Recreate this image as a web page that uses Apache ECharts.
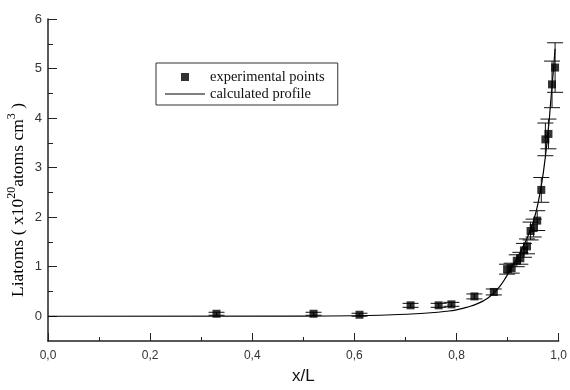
<!DOCTYPE html>
<html>
<head>
<meta charset="utf-8">
<script src="https://cdn.jsdelivr.net/npm/echarts@6/dist/echarts.min.js"></script>
<style>
  html, body { margin: 0; padding: 0; background: #fff; }
  #chart { width: 570px; height: 390px; }
</style>
</head>
<body>
<div id="chart"></div>
<script>
// ===== data =====
const expX = [0.33, 0.52, 0.61, 0.71, 0.765, 0.79, 0.835, 0.873, 0.899, 0.908, 0.918, 0.925,
              0.932, 0.938, 0.945, 0.951, 0.958, 0.966, 0.974, 0.980, 0.987, 0.993];
const expY = [0.05, 0.05, 0.03, 0.22, 0.22, 0.24, 0.40, 0.49, 0.95, 0.97, 1.12, 1.17,
              1.33, 1.41, 1.72, 1.78, 1.93, 2.55, 3.57, 3.68, 4.68, 5.02];
const expErr = [0.03, 0.03, 0.03, 0.04, 0.04, 0.04, 0.05, 0.06, 0.10, 0.10, 0.12, 0.12,
                0.14, 0.15, 0.18, 0.18, 0.20, 0.25, 0.33, 0.30, 0.47, 0.50];

const calcX = [0, 0.5, 0.6, 0.65, 0.7, 0.75, 0.78, 0.8, 0.82, 0.84, 0.86, 0.88, 0.9, 0.91,
               0.92, 0.93, 0.94, 0.95, 0.96, 0.97, 0.98, 0.985, 0.99, 0.993];
const calcY = [0, 0.003, 0.01, 0.02, 0.04, 0.07, 0.1, 0.13, 0.18, 0.25, 0.36, 0.54, 0.84, 1.02,
               1.2, 1.4, 1.62, 1.9, 2.3, 2.9, 3.8, 4.4, 5.0, 5.4];

const yMajor = [0, 1, 2, 3, 4, 5, 6];
const yMinor = [0.5, 1.5, 2.5, 3.5, 4.5, 5.5];

const AXIS_COLOR = '#222';
const chart = echarts.init(document.getElementById('chart'));

chart.setOption({
  animation: false,
  backgroundColor: '#fff',
  grid: { left: 48, right: 10, top: 19, bottom: 45 },
  legend: {
    orient: 'vertical',
    left: 156,
    top: 63,
    padding: [6, 13, 3, 9],
    itemGap: 1,
    itemWidth: 40,
    itemHeight: 8,
    borderColor: '#333',
    borderWidth: 1,
    textStyle: { fontFamily: 'Liberation Serif', fontSize: 14.5, color: '#111', lineHeight: 16 },
    data: [
      { name: 'experimental points', icon: 'path://M0,0H1V1H0Z' },
      { name: 'calculated profile', icon: 'path://M0,0H40V1H0Z' }
    ]
  },
  xAxis: {
    type: 'value',
    min: 0, max: 1, interval: 0.2,
    name: 'x/L',
    nameLocation: 'middle',
    nameGap: 27,
    nameTextStyle: { fontFamily: 'Liberation Sans', fontSize: 17, color: '#111' },
    axisLine: { onZero: false, lineStyle: { color: AXIS_COLOR, width: 1.5 } },
    axisTick: { inside: true, length: 8, lineStyle: { color: AXIS_COLOR } },
    minorTick: { show: true, splitNumber: 2, length: 4, lineStyle: { color: AXIS_COLOR } },
    splitLine: { show: false },
    axisLabel: {
      margin: 9,
      fontFamily: 'Liberation Sans', fontSize: 12, color: '#333',
      formatter: v => v.toFixed(1).replace('.', ',')
    }
  },
  yAxis: [{
    type: 'value',
    min: -0.5, max: 6,
    axisLine: { show: true, lineStyle: { color: AXIS_COLOR, width: 1.5 } },
    axisTick: { inside: true, length: 9, customValues: yMajor, lineStyle: { color: AXIS_COLOR } },
    splitLine: { show: false },
    axisLabel: {
      margin: 6, customValues: yMajor,
      fontFamily: 'Liberation Sans', fontSize: 13, color: '#333'
    }
  }, {
    type: 'value',
    position: 'left',
    min: -0.5, max: 6,
    axisLine: { show: false },
    axisTick: { show: true, inside: true, length: 5, customValues: yMinor, lineStyle: { color: AXIS_COLOR } },
    axisLabel: { show: false },
    splitLine: { show: false }
  }],
  graphic: [{
    type: 'text',
    x: 18, y: 200,
    rotation: Math.PI / 2,
    style: {
      text: '{b|Liatoms ( x10}{s|20}{b|atoms cm}{s|3}{b| )}',
      align: 'center',
      verticalAlign: 'middle',
      rich: {
        b: { fontFamily: 'Liberation Serif', fontSize: 17.5, color: '#111', lineHeight: 24 },
        s: { fontFamily: 'Liberation Serif', fontSize: 12, color: '#111', lineHeight: 24, verticalAlign: 'top' }
      }
    }
  }],
  series: [
    {
      name: 'calculated profile',
      type: 'line',
      smooth: true,
      showSymbol: false,
      symbol: 'none',
      color: '#000',
      lineStyle: { color: '#000', width: 1.2 },
      data: calcX.map((x, i) => [x, calcY[i]]),
      z: 2
    },
    {
      name: 'errors',
      type: 'custom',
      data: expX.map((x, i) => [x, expY[i] - expErr[i], expY[i] + expErr[i]]),
      renderItem: (params, api) => {
        const lo = api.coord([api.value(0), api.value(1)]);
        const hi = api.coord([api.value(0), api.value(2)]);
        const w = 8;
        const st = { stroke: '#111', lineWidth: 1 };
        return {
          type: 'group',
          children: [
            { type: 'line', shape: { x1: lo[0], y1: lo[1], x2: hi[0], y2: hi[1] }, style: st },
            { type: 'line', shape: { x1: lo[0] - w, y1: lo[1], x2: lo[0] + w, y2: lo[1] }, style: st },
            { type: 'line', shape: { x1: hi[0] - w, y1: hi[1], x2: hi[0] + w, y2: hi[1] }, style: st }
          ]
        };
      },
      z: 3
    },
    {
      name: 'experimental points',
      type: 'scatter',
      symbol: 'rect',
      symbolSize: 8,
      color: '#000',
      itemStyle: { color: '#000' },
      data: expX.map((x, i) => [x, expY[i]]),
      z: 4
    }
  ]
});
</script>
</body>
</html>
